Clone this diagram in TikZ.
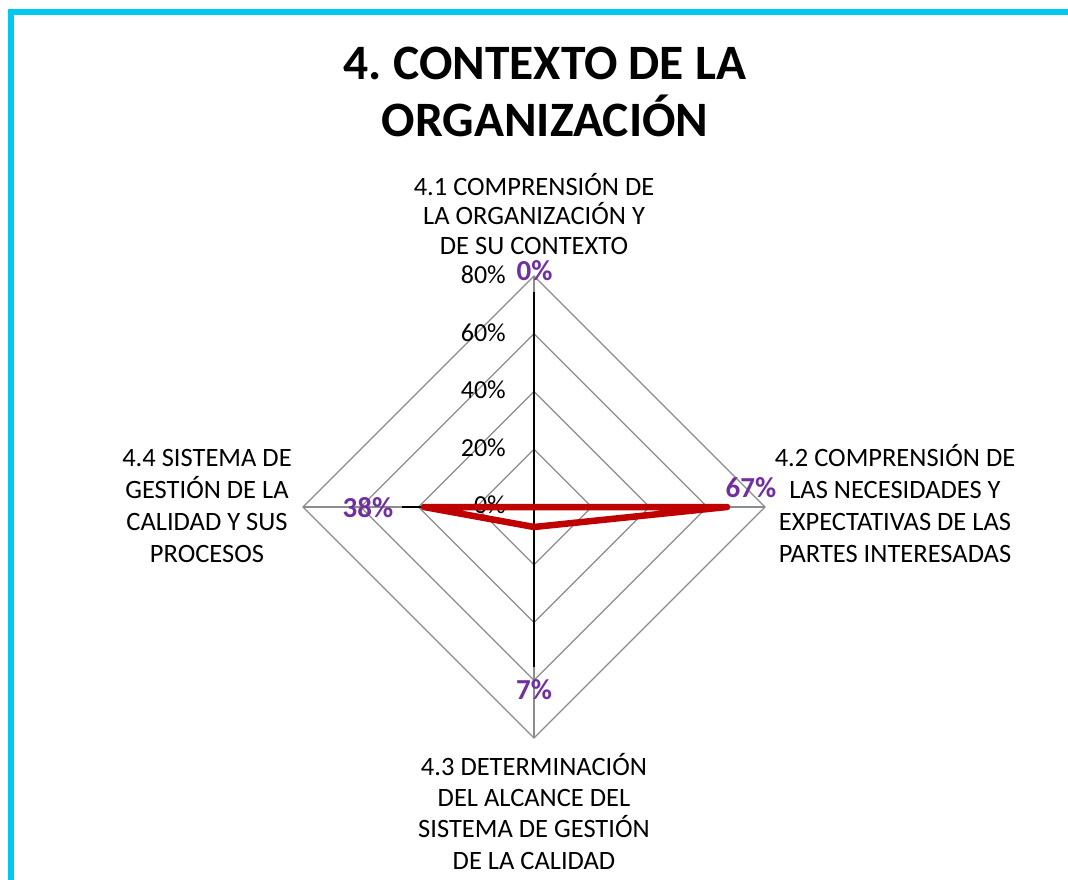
\documentclass[tikz,border=0pt]{standalone}
\usepackage{fontspec}
\setmainfont{Carlito}
\definecolor{bordercyan}{RGB}{0,200,240}
\definecolor{datapurple}{RGB}{112,48,160}
\definecolor{seriesred}{RGB}{192,0,0}
\definecolor{gridgray}{RGB}{140,140,140}
\begin{document}
\frenchspacing
\begin{tikzpicture}[x=1pt,y=-1pt,
  catlabel/.style={align=center, anchor=base, inner sep=0pt},
  ticklabel/.style={font=\fontsize{26}{31}\selectfont, anchor=base east, inner sep=0pt},
  datalabel/.style={font=\fontsize{29}{33}\selectfont\bfseries, text=datapurple, anchor=base, inner sep=0pt},
  titletext/.style={font=\fontsize{49.5}{56}\selectfont\bfseries, align=center, anchor=base, inner sep=0pt},
  gridline/.style={draw=gridgray, line width=1.3pt},
  axisline/.style={draw=black, line width=1.3pt},
  series/.style={draw=seriesred, line width=6.5pt, line join=round, line cap=round}]
\useasboundingbox (0,0) rectangle (1068,880);
\fill[white] (0,0) rectangle (1068,880);
\draw[bordercyan, line width=6pt] (11,883) -- (11,12) -- (1071,12);

% title
\node[titletext] (title) at (545,136) {4. CONTEXTO DE LA\\ORGANIZACIÓN};

% radar grid
\coordinate (C) at (534,507);
\foreach \k in {1,2,3,4}{
  \pgfmathsetmacro{\r}{231*\k/4}
  \draw[gridline] (534,507-\r) -- (534+\r,507) -- (534,507+\r) -- (534-\r,507) -- cycle;
}
\coordinate (T) at (534,276);
\coordinate (B) at (534,738);
\coordinate (L) at (303,507);
\coordinate (R) at (765,507);
\draw[gridline] (T) -- (B);
\draw[gridline] (L) -- (R);

% axis (black)
\coordinate (axtop) at (534,292);
\coordinate (axbot) at (534,667);
\coordinate (axl1) at (402,507);
\coordinate (axl2) at (424,507);
\draw[axisline] (axtop) -- (axbot);
\draw[axisline] (axl1) -- (axl2);

% tick labels
\node[ticklabel] (t80) at (506,283) {80\%};
\node[ticklabel] (t60) at (506,341) {60\%};
\node[ticklabel] (t40) at (506,398.5) {40\%};
\node[ticklabel] (t20) at (506,456) {20\%};
\node[ticklabel] (t0) at (506,513) {0\%};

% series
\coordinate (p1) at (534,507);
\coordinate (p2) at (727,507);
\coordinate (p3) at (534,527);
\coordinate (p4) at (424,507);
\draw[series] (p1) -- (p2) -- (p3) -- (p4) -- cycle;

% data labels
\node[datalabel] (d1) at (534.5,280) {0\%};
\node[datalabel] (d2) at (751,497) {67\%};
\node[datalabel] (d3) at (534,699) {7\%};
\node[datalabel] (d4) at (368,517) {38\%};

% category labels
\node[catlabel, font=\fontsize{26.5}{29.5}\selectfont] (c1) at (534,254) {4.1 COMPRENSIÓN DE\\LA ORGANIZACIÓN Y\\DE SU CONTEXTO};
\node[catlabel, font=\fontsize{26.5}{31.8}\selectfont] (c2) at (895,562) {4.2 COMPRENSIÓN DE\\LAS NECESIDADES Y\\EXPECTATIVAS DE LAS\\PARTES INTERESADAS};
\node[catlabel, font=\fontsize{26.5}{31.3}\selectfont] (c3) at (534,869) {4.3 DETERMINACIÓN\\DEL ALCANCE DEL\\SISTEMA DE GESTIÓN\\DE LA CALIDAD};
\node[catlabel, font=\fontsize{26.5}{32}\selectfont] (c4) at (207,562) {4.4 SISTEMA DE\\GESTIÓN DE LA\\CALIDAD Y SUS\\PROCESOS};
\end{tikzpicture}
\end{document}
